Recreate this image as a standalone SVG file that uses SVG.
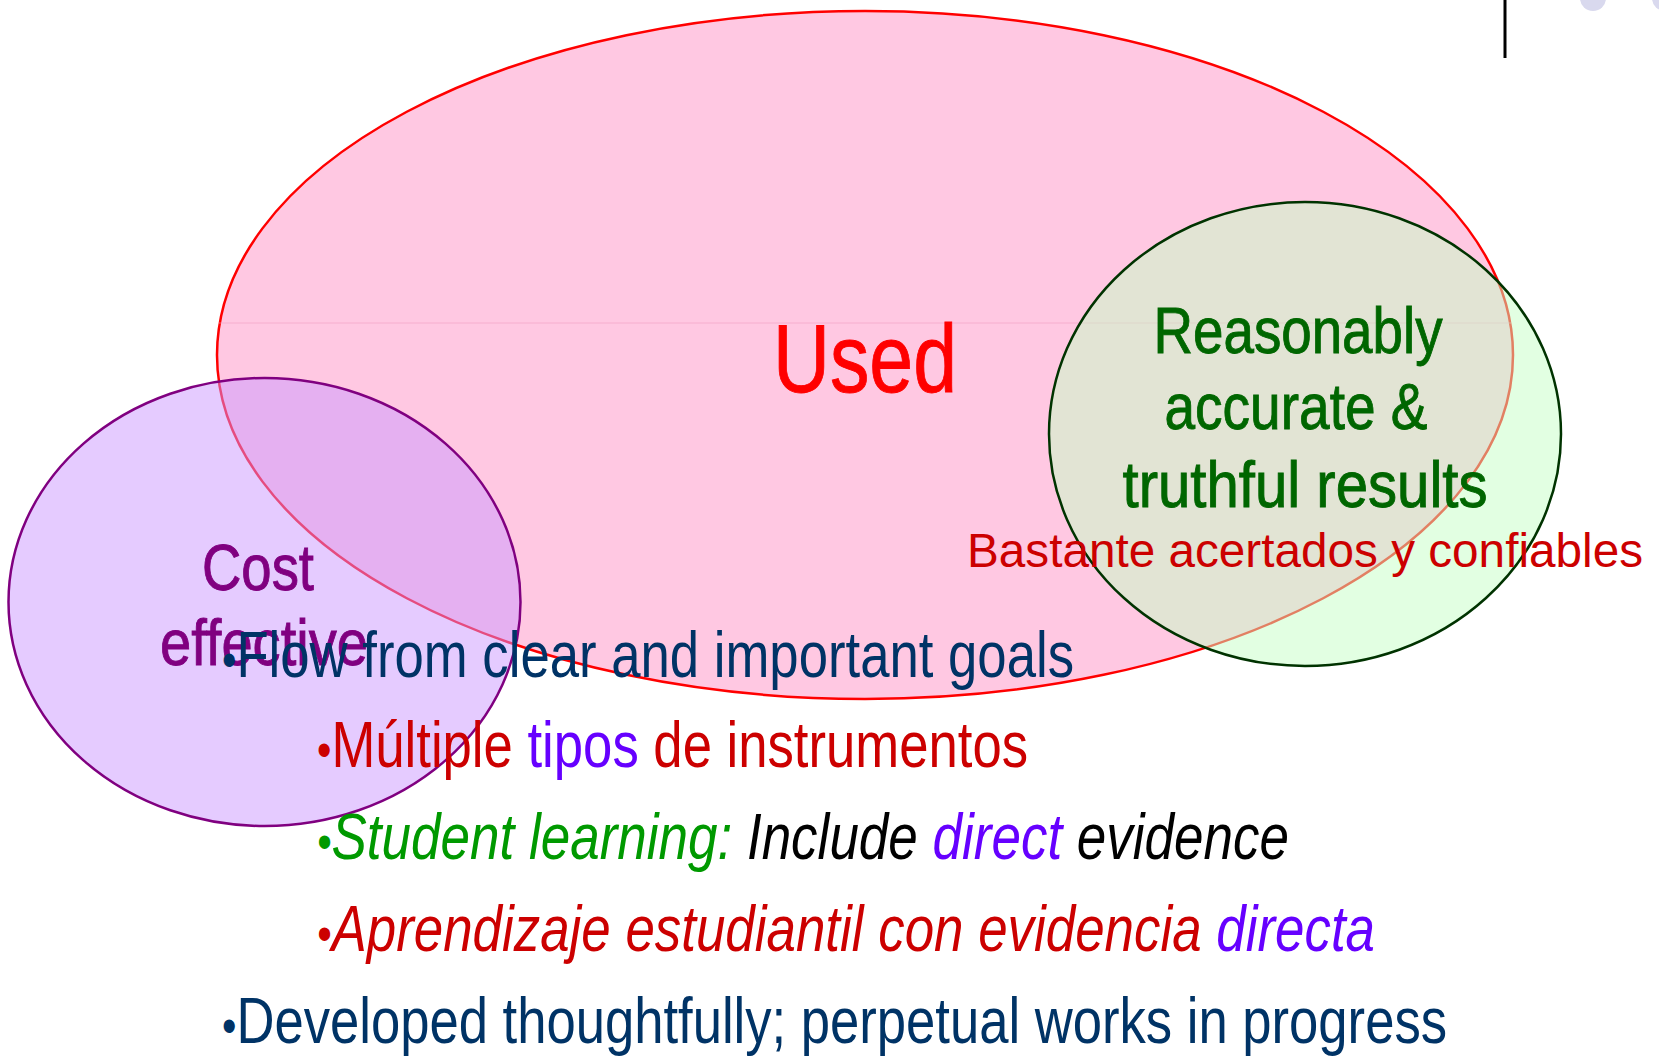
<svg xmlns="http://www.w3.org/2000/svg" width="1659" height="1056" viewBox="0 0 1659 1056">
<style>
text{font-family:"Liberation Sans Narrow","Arial Narrow","Liberation Sans",Arial,sans-serif}
.hv{stroke-width:0.9}
.it{font-style:italic}
.navy{fill:#003366}
.red{fill:#cc0000}
.vio{fill:#6600ff}
.blk{fill:#000000}
.grn{fill:#009900}
.bul{font-size:50px}
</style>
<rect width="1659" height="1056" fill="#ffffff"/>
<g id="decor">
<line x1="1505" y1="0" x2="1505" y2="58" stroke="#000" stroke-width="3"/>
<circle cx="1593" cy="-2" r="13" fill="#d9d9ee"/>
<circle cx="1665" cy="-2" r="13" fill="#d9d9ee"/>
</g>
<g id="used">
<ellipse cx="865" cy="355" rx="648" ry="344" fill="#ffc8e2" stroke="#ff0000" stroke-width="2.5"/>
<line x1="219" y1="323" x2="1511" y2="323" stroke="#f2a0c4" stroke-width="1" opacity="0.6"/>
<text x="865" y="392" text-anchor="middle" class="hv" font-size="96" fill="#ff0000" stroke="#ff0000" textLength="184" lengthAdjust="spacingAndGlyphs">Used</text>
</g>
<g id="cost">
<ellipse cx="264.5" cy="602" rx="256" ry="224" fill="#cb97ff" fill-opacity="0.5" stroke="#800080" stroke-width="2.5"/>
<text x="258" y="590" text-anchor="middle" class="hv" font-size="65" fill="#800080" stroke="#800080" textLength="112" lengthAdjust="spacingAndGlyphs">Cost</text>
<text x="264" y="665" text-anchor="middle" class="hv" font-size="65" fill="#800080" stroke="#800080" textLength="208" lengthAdjust="spacingAndGlyphs">effective</text>
</g>
<g id="accurate">
<ellipse cx="1305" cy="434" rx="256" ry="232" fill="#c6ffc6" fill-opacity="0.5" stroke="#003300" stroke-width="2.5"/>
<text x="1298" y="353" text-anchor="middle" class="hv" font-size="64" fill="#006600" stroke="#006600" textLength="289" lengthAdjust="spacingAndGlyphs">Reasonably</text>
<text x="1296" y="429" text-anchor="middle" class="hv" font-size="64" fill="#006600" stroke="#006600" textLength="263" lengthAdjust="spacingAndGlyphs">accurate &amp;</text>
<text x="1305" y="507" text-anchor="middle" class="hv" font-size="64" fill="#006600" stroke="#006600" textLength="365" lengthAdjust="spacingAndGlyphs">truthful results</text>
<text x="967" y="567" style="font-family:'Liberation Sans',Arial,sans-serif" font-size="48" fill="#cc0000" textLength="676" lengthAdjust="spacingAndGlyphs">Bastante acertados y confiables</text>
</g>
<g id="bullets" font-size="64">
<text x="222" y="677" class="navy" textLength="852" lengthAdjust="spacingAndGlyphs"><tspan class="bul">•</tspan>Flow from clear and important goals</text>
<text x="317" y="767" textLength="711" lengthAdjust="spacingAndGlyphs"><tspan class="red bul">•</tspan><tspan class="red">Múltiple </tspan><tspan class="vio">tipos </tspan><tspan class="red">de instrumentos</tspan></text>
<text x="317" y="859" class="it" textLength="972" lengthAdjust="spacingAndGlyphs"><tspan class="grn bul">•</tspan><tspan class="grn">Student learning: </tspan><tspan class="blk">Include </tspan><tspan class="vio">direct </tspan><tspan class="blk">evidence</tspan></text>
<text x="317" y="951" class="it" textLength="1058" lengthAdjust="spacingAndGlyphs"><tspan class="red bul">•</tspan><tspan class="red">Aprendizaje estudiantil con evidencia </tspan><tspan class="vio">directa</tspan></text>
<text x="222" y="1043" class="navy" textLength="1225" lengthAdjust="spacingAndGlyphs"><tspan class="bul">•</tspan>Developed thoughtfully; perpetual works in progress</text>
</g>
</svg>
